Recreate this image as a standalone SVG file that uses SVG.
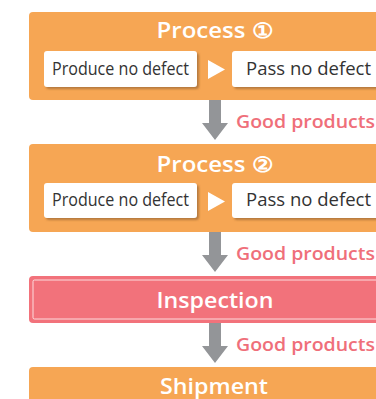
<svg xmlns="http://www.w3.org/2000/svg" width="376" height="399" viewBox="0 0 376 399">
<defs>
<filter id="sh" x="-10%" y="-20%" width="130%" height="160%">
<feDropShadow dx="2" dy="2" stdDeviation="1" flood-color="#8a5a2a" flood-opacity="0.6"/>
</filter>
</defs>
<style>
.proc{fill:#f6a654}
.insp{fill:#f2727b}
.wbox{fill:#ffffff;filter:url(#sh)}
.title{font-family:"Open Sans","Liberation Sans",sans-serif;font-weight:600;font-size:21px;fill:#ffffff;text-anchor:middle}
.item{font-family:"Open Sans","Liberation Sans",sans-serif;font-size:18px;fill:#333333}
.lbl{font-family:"Open Sans","Liberation Sans",sans-serif;font-weight:600;font-size:18px;fill:#ef6f7a}
.arr{fill:#939598}
</style>
<rect width="376" height="399" fill="#ffffff"/>
<g id="process1">
<rect class="proc" x="29" y="12" width="372" height="88" rx="4"/>
<text class="title" x="215" y="38" textLength="117" lengthAdjust="spacingAndGlyphs">Process ①</text>
<rect class="wbox" x="44" y="51" width="153" height="36" rx="3"/>
<text class="item" x="52" y="74.5" textLength="137" lengthAdjust="spacingAndGlyphs">Produce no defect</text>
<polygon points="208,60 225,69.5 208,79" fill="#ffffff"/>
<rect class="wbox" x="232" y="51" width="154" height="36" rx="3"/>
<text class="item" x="246" y="74.5" textLength="125" lengthAdjust="spacingAndGlyphs">Pass no defect</text>
</g>
<g id="process2">
<rect class="proc" x="29" y="144" width="372" height="88" rx="4"/>
<text class="title" x="215" y="172" textLength="117" lengthAdjust="spacingAndGlyphs">Process ②</text>
<rect class="wbox" x="44" y="183" width="153" height="35" rx="3"/>
<text class="item" x="52" y="206" textLength="137" lengthAdjust="spacingAndGlyphs">Produce no defect</text>
<polygon points="208,192 225,201.5 208,211" fill="#ffffff"/>
<rect class="wbox" x="232" y="183" width="154" height="35" rx="3"/>
<text class="item" x="246" y="206" textLength="125" lengthAdjust="spacingAndGlyphs">Pass no defect</text>
</g>
<g id="inspection">
<rect class="insp" x="29" y="276" width="372" height="47" rx="4"/>
<rect x="33" y="280" width="364" height="39" rx="1.5" fill="none" stroke="#ffffff" stroke-opacity="0.75" stroke-width="1"/>
<text class="title" x="215" y="308" textLength="117" lengthAdjust="spacingAndGlyphs">Inspection</text>
</g>
<g id="shipment">
<rect class="proc" x="29" y="367" width="372" height="50" rx="4"/>
<text class="title" x="214" y="394" textLength="108" lengthAdjust="spacingAndGlyphs">Shipment</text>
</g>
<g id="connectors">
<polygon class="arr" points="209,100 221,100 221,123 228,123 215,140 202,123 209,123"/>
<text class="lbl" x="236" y="128" textLength="139" lengthAdjust="spacingAndGlyphs">Good products</text>
<polygon class="arr" points="209,232 221,232 221,255 228,255 215,272 202,255 209,255"/>
<text class="lbl" x="236" y="260" textLength="139" lengthAdjust="spacingAndGlyphs">Good products</text>
<polygon class="arr" points="209,323 221,323 221,346 228,346 215,363 202,346 209,346"/>
<text class="lbl" x="236" y="351" textLength="139" lengthAdjust="spacingAndGlyphs">Good products</text>
</g>
</svg>
